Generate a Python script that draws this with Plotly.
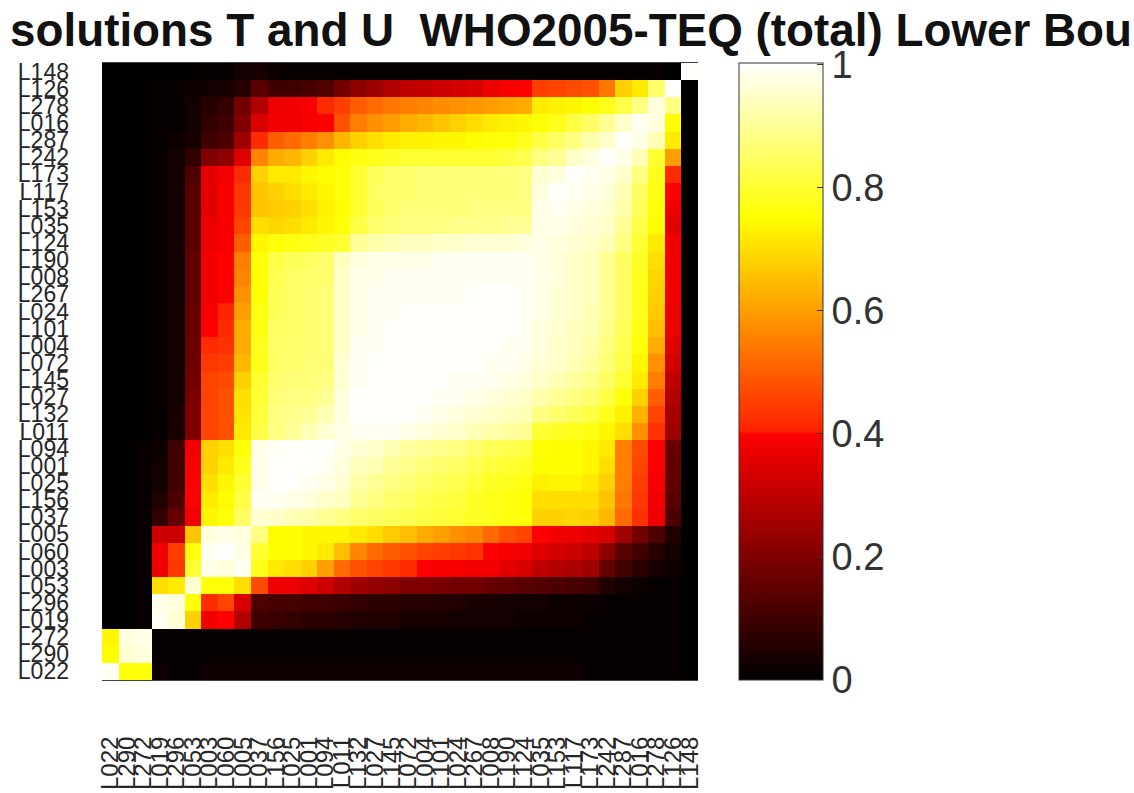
import plotly.graph_objects as go

TITLE = "solutions T and U\u00a0 WHO2005-TEQ (total) Lower Bou"

y_labels = ["L148","L126","L278","L016","L287","L242","L173","L117","L153","L035","L124","L190",
            "L008","L267","L024","L101","L004","L072","L145","L027","L132","L011","L094","L001",
            "L025","L156","L037","L005","L060","L003","L053","L296","L019","L272","L290","L022"]
x_labels = y_labels[::-1]

cbar_ticks = [0, 0.2, 0.4, 0.6, 0.8, 1]
cbar_text = ["0", "0.2", "0.4", "0.6", "0.8", "1"]

# rows top to bottom, columns left to right (L022 ... L148)
L148 = [0,0,0,0,0, 0,.01,.01,.03, .04,.02,.01,.01,.01,.01, .01,.01,.01,.01,.01,.01,.01,.01,.01,.01,.01, .01,.01,.01,.01,.01,.01,.01,.01, 0,1]
L126 = [0,0,0,.01,.01, .02,.03,.04,.06, .14,.1,.1,.11,.13,.18, .22,.25,.28,.3,.31,.32,.33,.34,.37,.39,.4, .45,.46,.47,.48,.54,.68,.72,.86, 1,0]
L278 = [0,0,0,.01,.01, .03,.06,.08,.18, .28,.37,.38,.39,.42,.45, .5,.52,.54,.55,.56,.57,.58,.59,.6,.61,.62, .72,.73,.74,.75,.78,.82,.88,.97, .88,0]
L016 = [0,0,0,.01,.01, .03,.08,.1,.2, .34,.38,.38,.39,.4,.48, .55,.58,.6,.62,.64,.66,.68,.7,.72,.73,.74, .76,.78,.82,.85,.9,.95,.99,.97, .75,0]
L287 = [0,0,0,.01,.02, .04,.1,.12,.25, .42,.5,.52,.55,.58,.64, .68,.7,.72,.73,.73,.74,.74,.75,.76,.76,.78, .82,.85,.88,.92,.95,1,.98,.93, .72,0]
L242 = [0,0,0,.01,.03, .08,.2,.22,.35, .56,.62,.64,.68,.72,.75, .77,.78,.79,.8,.8,.8,.8,.8,.8,.81,.83, .88,.9,.95,.97,1,.98,.93,.8, .6,0]
L173 = [0,0,0,.01,.03, .12,.36,.38,.42, .68,.72,.72,.74,.75,.76, .8,.84,.86,.86,.87,.87,.87,.87,.87,.87,.88, .96,.97,1,.99,.98,.95,.88,.78, .42,0]
L117 = [0,0,0,.01,.03, .14,.36,.39,.44, .66,.68,.7,.72,.74,.76, .8,.85,.86,.86,.87,.87,.87,.87,.87,.87,.88, .97,1,.99,.98,.97,.93,.85,.77, .4,0]
L153 = [0,0,0,.01,.03, .14,.36,.39,.44, .66,.67,.68,.7,.73,.75, .8,.84,.86,.87,.87,.87,.87,.88,.88,.88,.88, .98,.99,.98,.97,.96,.92,.84,.76, .38,0]
L035 = [0,0,0,.01,.03, .14,.37,.39,.46, .7,.69,.7,.72,.74,.76, .82,.86,.87,.88,.88,.88,.89,.89,.89,.9,.9, .98,.98,.97,.96,.95,.9,.82,.75, .36,0]
L124 = [0,0,0,.01,.03, .14,.37,.39,.5, .74,.76,.77,.78,.79,.8, .9,.92,.93,.94,.94,.95,.95,.96,.96,.96,.97, .98,.97,.96,.95,.93,.88,.8,.72, .38,0]
L190 = [0,0,0,.01,.03, .15,.38,.4,.55, .76,.82,.84,.85,.86,.94, .97,.98,.98,.98,.98,.99,.99,.99,.99,.99,.99, .98,.97,.95,.94,.9,.85,.79,.7, .38,0]
L008 = [0,0,0,.01,.03, .15,.38,.4,.56, .76,.83,.85,.86,.86,.95, .98,.98,.99,.99,.99,.99,.99,.99,.99,.99,.99, .98,.97,.95,.94,.9,.85,.78,.69, .38,0]
L267 = [0,0,0,.01,.03, .15,.38,.4,.58, .76,.84,.85,.86,.87,.95, .98,.99,.99,.99,.99,.99,.99,1,1,1,.99, .98,.96,.95,.94,.9,.85,.78,.68, .38,0]
L024 = [0,0,0,.01,.03, .16,.39,.41,.6, .77,.84,.85,.86,.87,.95, .98,.99,.99,1,1,1,1,1,1,1,.99, .98,.96,.95,.93,.9,.85,.78,.67, .37,0]
L101 = [0,0,0,.01,.03, .16,.4,.42,.62, .77,.85,.85,.86,.87,.95, .98,.99,1,1,1,1,1,1,1,1,.99, .97,.96,.94,.93,.89,.84,.77,.65, .37,0]
L004 = [0,0,0,.01,.03, .17,.42,.43,.62, .78,.85,.86,.86,.87,.95, .99,.99,1,1,1,1,1,1,1,.99,.99, .97,.95,.94,.92,.88,.83,.76,.62, .35,0]
L072 = [0,0,0,.01,.03, .17,.44,.45,.64, .78,.85,.86,.87,.87,.96, .99,1,1,1,1,1,1,1,.99,.99,.98, .96,.95,.93,.91,.87,.82,.74,.58, .33,0]
L145 = [0,0,0,.01,.03, .18,.46,.47,.68, .8,.86,.87,.87,.88,.96, .99,1,1,1,1,1,.99,.99,.99,.98,.97, .95,.93,.91,.89,.85,.8,.72,.55, .3,0]
L027 = [0,0,0,.01,.03, .19,.46,.48,.7, .8,.87,.88,.88,.9,.97, 1,1,1,1,1,.99,.99,.98,.97,.96,.95, .92,.9,.88,.86,.82,.76,.68,.5, .28,0]
L132 = [0,0,0,.01,.04, .2,.46,.48,.71, .81,.88,.89,.9,.93,.97, 1,1,1,1,.99,.98,.97,.96,.95,.94,.93, .88,.86,.84,.82,.78,.73,.63,.46, .26,0]
L011 = [0,0,0,.01,.04, .2,.46,.48,.72, .82,.88,.9,.93,.96,.98, .99,.99,.99,.98,.97,.96,.95,.93,.92,.91,.9, .8,.79,.78,.77,.74,.7,.58,.43, .25,0]
L094 = [0,0,.01,.02,.1, .38,.68,.7,.76, .98,.99,1,1,1,.98, .96,.95,.93,.91,.9,.89,.88,.86,.84,.83,.82, .76,.75,.75,.74,.72,.55,.47,.4, .16,0]
L001 = [0,0,.01,.03,.1, .39,.68,.72,.78, .98,1,1,1,.99,.97, .94,.93,.9,.89,.87,.86,.85,.83,.81,.8,.79, .75,.75,.75,.74,.7,.55,.46,.4, .15,0]
L025 = [0,0,.01,.03,.1, .4,.7,.74,.8, .98,1,1,.99,.98,.96, .92,.9,.88,.87,.85,.84,.83,.81,.79,.78,.77, .73,.74,.74,.72,.68,.55,.45,.39, .15,0]
L156 = [0,0,.01,.05,.12, .4,.72,.75,.82, .99,.99,.98,.97,.95,.94, .9,.88,.86,.85,.83,.82,.81,.79,.78,.77,.76, .7,.7,.7,.7,.66,.54,.44,.38, .14,0]
L037 = [0,0,.01,.08,.16, .38,.74,.76,.85, .96,.95,.93,.92,.9,.88, .86,.85,.84,.83,.82,.81,.8,.79,.78,.77,.76, .68,.68,.69,.68,.64,.52,.43,.37, .12,0]
L005 = [0,0,.01,.32,.32, .66,.97,.98,.97, .88,.75,.75,.74,.74,.74, .72,.7,.67,.65,.62,.6,.58,.56,.52,.48,.46, .4,.38,.37,.36,.34,.25,.18,.12, .05,0]
L060 = [0,0,.01,.38,.45, .76,.99,1,.98, .8,.75,.75,.74,.72,.65, .56,.52,.5,.48,.46,.45,.44,.43,.4,.39,.38, .35,.33,.32,.3,.22,.14,.1,.06, .03,0]
L003 = [0,0,.01,.37,.44, .8,.98,.97,.99, .78,.72,.7,.68,.6,.52, .48,.46,.44,.42,.4,.39,.39,.38,.38,.36,.34, .3,.28,.27,.25,.16,.1,.07,.04, .02,0]
L053 = [0,0,.01,.7,.72, .96,.76,.76,.7, .47,.38,.37,.35,.32,.28, .25,.23,.22,.2,.2,.19,.18,.18,.16,.15,.14, .13,.12,.11,.1,.05,.03,.02,.01, .01,0]
L296 = [0,0,.01,.98,.97, .76,.42,.46,.34, .12,.11,.11,.1,.1,.09, .08,.07,.07,.06,.06,.05,.05,.04,.04,.03,.03, .03,.02,.02,.02,.01,.01,.01,.01, .01,0]
L019 = [0,0,.01,.99,.96, .68,.38,.4,.28, .1,.09,.08,.07,.07,.06, .05,.05,.05,.04,.04,.04,.03,.03,.03,.03,.02, .02,.02,.02,.01,.01,.01,.01,.01, .01,0]
L272 = [.74,.97,.98,.01,.01, .01,.01,.01,.01, .01,.01,.01,.01,.01,.01, .01,.01,.01,.01,.01,.01,.01,.01,.01,.01,.01, .01,.01,.01,.01,.01,.01,.01,.01, .01,0]
L290 = [.75,.96,.97,.01,.01, .01,.01,.01,.01, .01,.01,.01,.01,.01,.01, .01,.01,.01,.01,.01,.01,.01,.01,.01,.01,.01, .01,.01,.01,.01,.01,.01,.01,.01, .01,0]
L022 = [.99,.76,.76,.02,.01, .01,.02,.02,.02, .02,.02,.02,.02,.02,.02, .02,.02,.02,.02,.02,.02,.02,.02,.02,.02,.02, .02,.02,.02,.01,.01,.01,.01,.01, .01,0]

rows = [L148,L126,L278,L016,L287,L242,L173,L117,L153,L035,L124,L190,L008,L267,L024,L101,L004,L072,
        L145,L027,L132,L011,L094,L001,L025,L156,L037,L005,L060,L003,L053,L296,L019,L272,L290,L022]
assert all(len(r) == 36 for r in rows) and len(rows) == 36

W, H = 1134, 793
L, R, T, B = 102, 698, 63, 680

hot = [[0, "rgb(0,0,0)"], [0.399, "rgb(255,0,0)"], [0.402, "rgb(255,32,0)"],
       [0.75, "rgb(255,255,0)"], [1, "rgb(255,255,255)"]]

fig = go.Figure(go.Heatmap(
    z=rows, x=x_labels, y=y_labels, zmin=0, zmax=1.003, colorscale=hot, hoverongaps=False,
    colorbar=dict(
        x=739/W, xanchor="left", xpad=0, y=1-B/H, yanchor="bottom", ypad=0,
        len=(B-T)/H, lenmode="fraction", thickness=84, thicknessmode="pixels",
        tickmode="array", tickvals=cbar_ticks, ticktext=cbar_text,
        ticks="inside", ticklen=6, tickwidth=1, tickcolor="#333333",
        outlinecolor="#333333", outlinewidth=1,
        tickfont=dict(family="Liberation Sans", size=38, color="#333333"),
    ),
))
tick_font = dict(family="Liberation Sans", size=23, color="#262626")
x_tick_font = dict(family="Liberation Sans", size=24, color="#262626")
fig.update_layout(
    width=W, height=H, autosize=False, margin=dict(l=0, r=0, t=0, b=0, autoexpand=False),
    paper_bgcolor="white", plot_bgcolor="white",
    xaxis=dict(domain=[L/W, R/W], type="category", tickmode="array", tickvals=x_labels, ticktext=x_labels,
               tickangle=-90, tickfont=x_tick_font, ticklabelstandoff=46, ticks="", showgrid=False,
               showline=True, mirror=True, linecolor="#404040", linewidth=1, zeroline=False, automargin=False),
    yaxis=dict(domain=[1-B/H, 1-T/H], type="category", autorange="reversed", tickmode="array",
               tickvals=y_labels, ticktext=y_labels, tickfont=tick_font, ticklabelstandoff=32,
               ticks="", showgrid=False, showline=False, zeroline=False, automargin=False),
    annotations=[dict(text=f"<b>{TITLE}</b>", xref="paper", yref="paper", x=8/W, y=1-31/H,
                      xanchor="left", yanchor="middle", showarrow=False,
                      font=dict(family="Liberation Sans", size=45.8, color="#111111"))],
)
fig.write_html("out.html", config={"displayModeBar": False},
               post_script="document.body.style.margin='0';document.body.style.overflow='hidden';")
